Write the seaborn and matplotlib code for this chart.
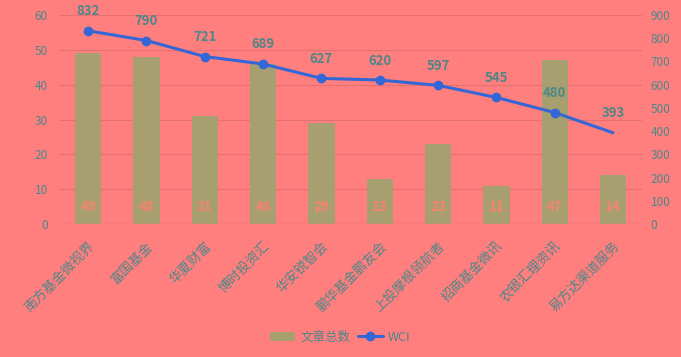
import matplotlib
matplotlib.use("Agg")
import matplotlib.pyplot as plt
import seaborn as sns
import pandas as pd
import numpy as np

categories = ["南方基金微视界", "富国基金", "华夏财富", "博时投资汇", "华安锐智会",
              "鹏华基金鹏友会", "上投摩根领航者", "招商基金微讯", "农银汇理资讯", "易方达渠道服务"]
articles = [49, 48, 31, 46, 29, 13, 23, 11, 47, 14]
wci = [832, 790, 721, 689, 627, 620, 597, 545, 480, 393]

sns.set_theme(style="white")
plt.rcParams['font.family'] = ['Noto Sans CJK SC', 'DejaVu Sans']
plt.rcParams['axes.unicode_minus'] = False

BG = "#FF7F7F"
TXT = "#4E8787"
GRID = "#E5706F"
BAR = "#A89F70"
LINE = "#3366D6"

df = pd.DataFrame({"cat": categories, "articles": articles, "wci": wci})

fig = plt.figure(figsize=(6.81, 3.57), dpi=100, facecolor=BG)
ax = fig.add_axes([0.0866, 0.3725, 0.8564, 0.5855])
ax.set_facecolor(BG)

sns.barplot(data=df, x="cat", y="articles", color=BAR, width=0.45, ax=ax,
            saturation=1, label="文章总数", edgecolor=BAR, linewidth=0)
ax.set_ylim(0, 60)
ax.set_yticks(range(0, 61, 10))
ax.set_xlim(-0.5, len(categories) - 0.5)
ax.grid(axis="y", color=GRID, linewidth=0.8)
ax.set_axisbelow(True)
for s in ax.spines.values():
    s.set_visible(False)
ax.axhline(0, color=GRID, linewidth=1)
ax.set_xlabel("")
ax.set_ylabel("")
ax.tick_params(axis="y", colors=TXT, labelsize=8.5, length=0, pad=8)
ax.tick_params(axis="x", colors=TXT, labelsize=9.5, length=0, pad=11)
plt.setp(ax.get_xticklabels(), rotation=45, ha="right", rotation_mode="anchor")

for i, v in enumerate(articles):
    ax.annotate(str(v), (i, 0), xytext=(0, 12.5), textcoords="offset points",
                ha="center", va="center", color="#F8826E", fontsize=9.5,
                fontweight="bold")

ax2 = ax.twinx()
ax2.set_facecolor("none")
sns.lineplot(data=df, x="cat", y="wci", color=LINE, linewidth=2.2, marker="o",
             markersize=7, markeredgewidth=0, markevery=list(range(len(wci) - 1)),
             ax=ax2, label="WCI", sort=False)
ax2.set_ylim(0, 900)
ax2.set_yticks(range(0, 901, 100))
ax2.set_ylabel("")
ax2.set_xlabel("")
for s in ax2.spines.values():
    s.set_visible(False)
ax2.tick_params(axis="y", colors=TXT, labelsize=8.5, length=0, pad=6)
for i, v in enumerate(wci):
    ax2.annotate(str(v), (i, v), xytext=(0, 9), textcoords="offset points",
                 ha="center", va="bottom", color=TXT, fontsize=9.5,
                 fontweight="bold")

if ax.get_legend():
    ax.get_legend().remove()
if ax2.get_legend():
    ax2.get_legend().remove()
h1, l1 = ax.get_legend_handles_labels()
h2, l2 = ax2.get_legend_handles_labels()
leg = fig.legend(h1 + h2, l1 + l2, loc="center", bbox_to_anchor=(0.5, 0.055),
                 ncol=2, frameon=False, fontsize=9, labelcolor=TXT,
                 handlelength=2.0, handletextpad=0.4, columnspacing=0.6)

fig.savefig("out.png", dpi=100, facecolor=BG)
